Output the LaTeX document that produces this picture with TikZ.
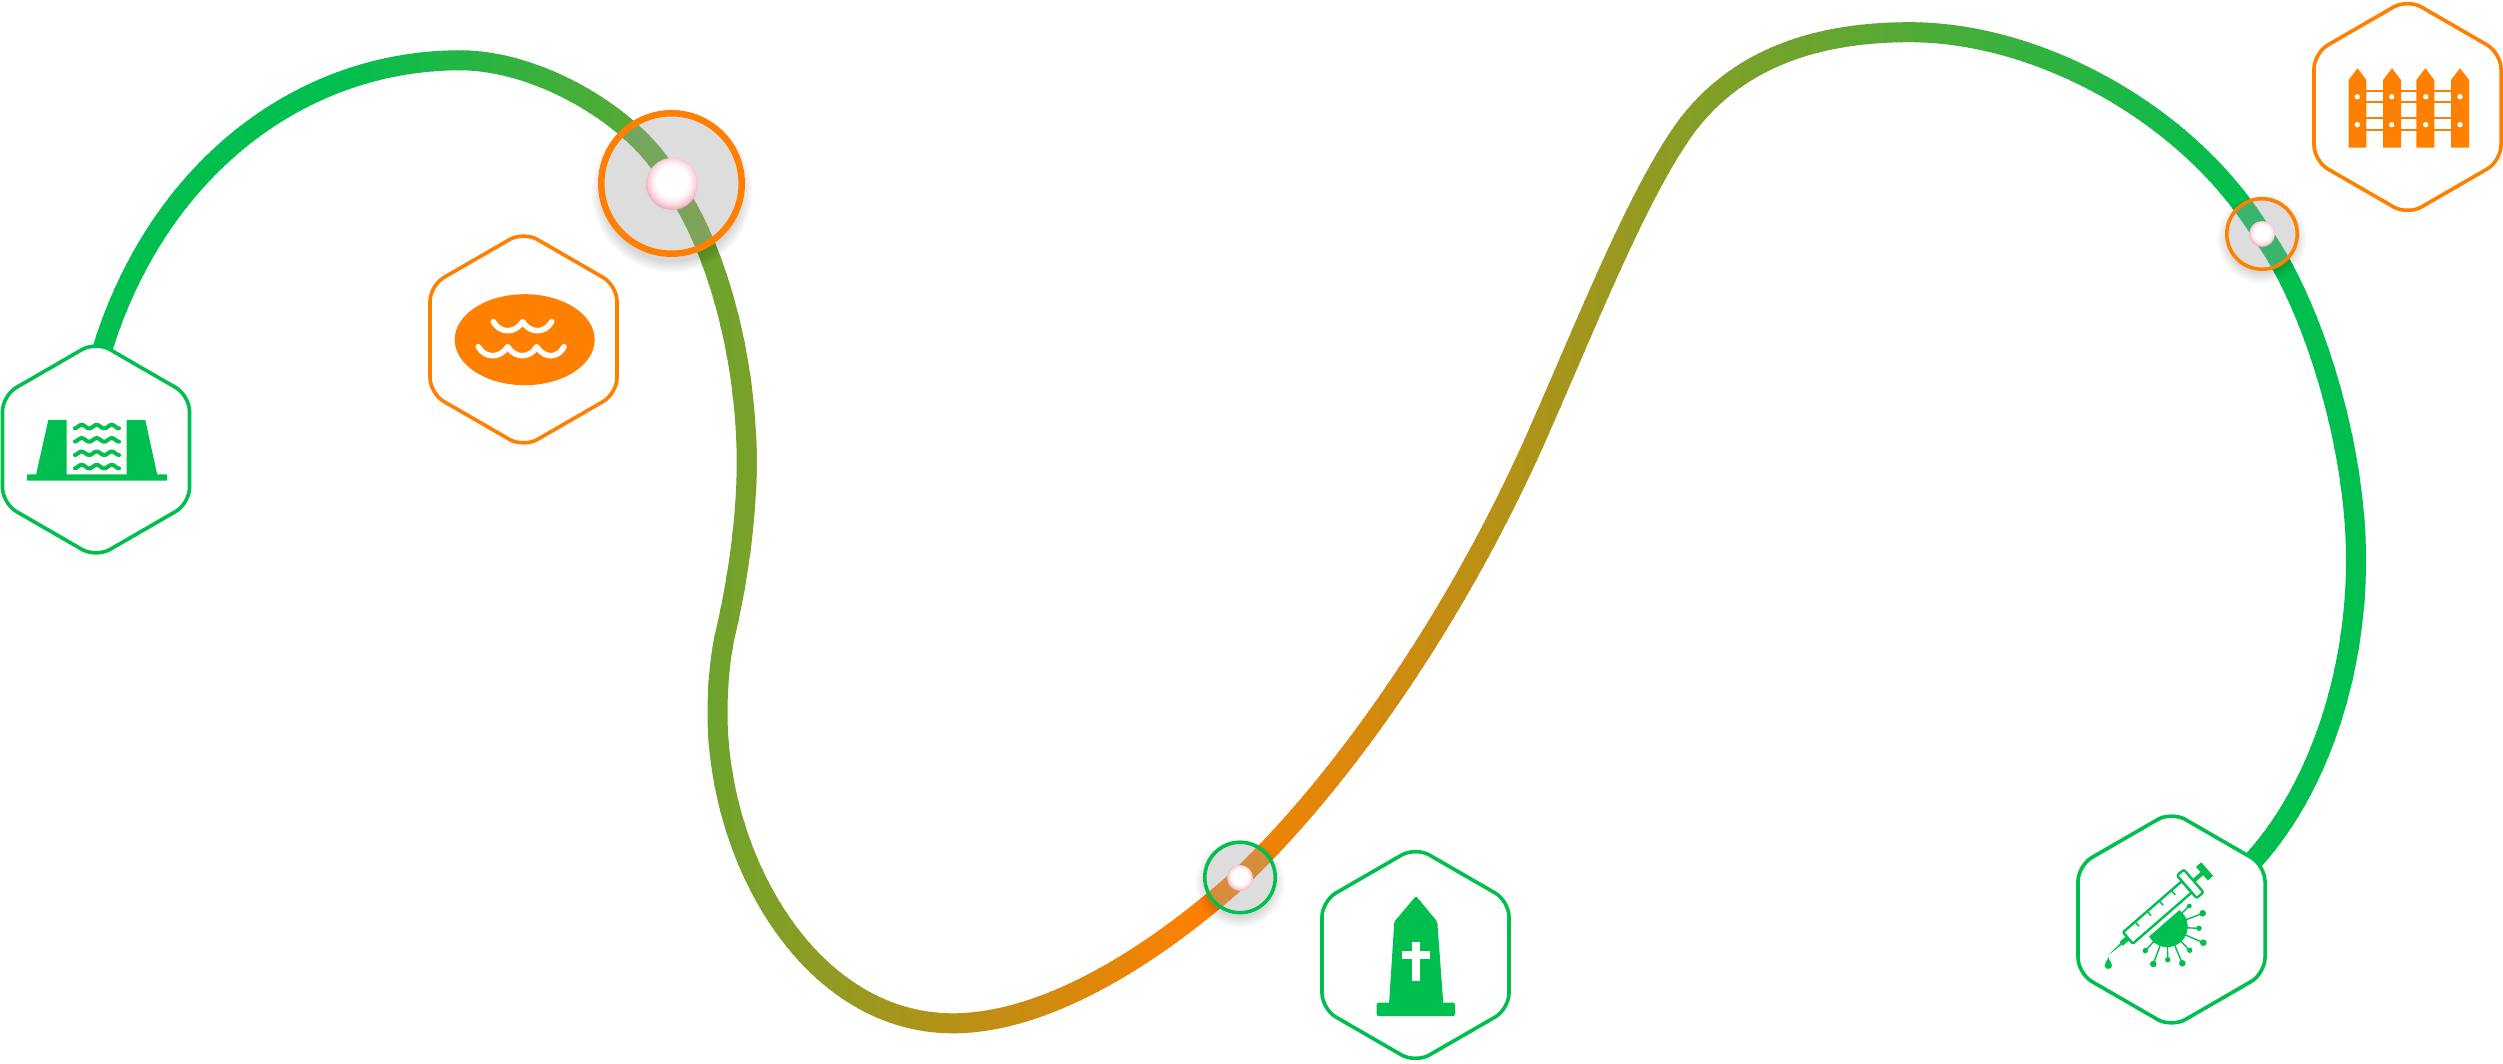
\documentclass[tikz,border=0pt]{standalone}
\usetikzlibrary{shapes.geometric}
\definecolor{greenC}{HTML}{00BF4F}
\definecolor{orangeC}{HTML}{FF7F00}
\definecolor{glass}{HTML}{A3A3A3}
\pgfdeclareradialshading{pearlshade}{\pgfpoint{0bp}{4bp}}{rgb(0bp)=(1,1,1);rgb(15bp)=(1,1,1);rgb(21bp)=(.99,.88,.90);rgb(26bp)=(.95,.68,.75);rgb(29bp)=(.92,.58,.67);rgb(50bp)=(.92,.58,.67)}
\tikzset{
  hexbox/.style={regular polygon,regular polygon sides=6,shape border rotate=30,minimum size=216pt,inner sep=0pt,outer sep=0pt,
    draw=#1,line width=3.6pt,rounded corners=16pt,fill=white},
  lens/.style={circle,inner sep=0pt,outer sep=0pt,draw=#1,fill=glass,fill opacity=0.36,draw opacity=1},
  pearl/.style={circle,inner sep=0pt,outer sep=0pt,shade,shading=pearlshade},
  route/.style={line width=20pt,line cap=butt,line join=round},
  wave/.style={line width=#1,line cap=round,line join=round},
}
\begin{document}
\begin{tikzpicture}[x=1pt,y=-1pt]
\useasboundingbox (0,0) rectangle (2503,1064);
\fill[white] (0,0) rectangle (2503,1064);
% route coordinates
\coordinate (p0) at (100,357);
\coordinate (p1) at (460,60.3);
\coordinate (p2) at (672,184);
\coordinate (p3) at (746.7,463);
\coordinate (p4) at (724.6,636.7);
\coordinate (p5) at (717.5,713);
\coordinate (p6) at (953,1023.3);
\coordinate (p7) at (1240,878);
\coordinate (p8) at (1543.6,420.7);
\coordinate (p9) at (1686.4,126.5);
\coordinate (p10) at (1909.6,32.2);
\coordinate (p11) at (2262,234);
\coordinate (p12) at (2356,560);
\coordinate (p13) at (2250,864);
\def\routepath{(p0) .. controls (155,170) and (300,60.3) .. (p1)
  .. controls (545,60.3) and (645,125) .. (p2)
  .. controls (710,235) and (746.7,345) .. (p3)
  .. controls (746.7,520) and (737,585) .. (p4)
  .. controls (719.6,660) and (717.5,690) .. (p5)
  .. controls (717.5,860) and (810,1023.3) .. (p6)
  .. controls (1050,1023.3) and (1160,950) .. (p7)
  .. controls (1345,778) and (1462,610) .. (p8)
  .. controls (1590,315) and (1640,190) .. (p9)
  .. controls (1735,62) and (1810,32.2) .. (p10)
  .. controls (2040,32.2) and (2190,115) .. (p11)
  .. controls (2310,300) and (2356,440) .. (p12)
  .. controls (2356,680) and (2315,795) .. (p13)}
\foreach \sx in {90,96,...,2370}{
  \pgfmathsetmacro{\mixv}{ifthenelse(\sx<1198,max(0,min(100,(\sx-340)/8.58)),max(0,min(100,(2240-\sx)/10.42)))}
  \begin{scope}
    \clip (\sx,-10) rectangle (\sx+7,1080);
    \draw[route,draw=orangeC!\mixv!greenC] \routepath;
  \end{scope}
}
% soft shadows outside the lenses
\foreach \cx/\cy/\rr/\off in {672/184/73/8,1240/878/37/5,2262/234/37/5}{
  \begin{scope}[even odd rule]
    \clip (0,0) rectangle (2503,1064) (\cx,\cy) circle[radius=\rr pt];
    \foreach \i in {0,...,7}{
      \fill[black,opacity=0.018] (\cx,\cy+\off) circle[radius=\rr pt-3pt+\i*1.5pt];
    }
  \end{scope}
}
% lenses
\node[lens=orangeC,line width=6.5pt,minimum size=140.5pt] (lensA) at (671.5,183.5) {};
\node[lens=greenC,line width=3.6pt,minimum size=70.5pt] (lensB) at (1240,877.5) {};
\node[lens=orangeC,line width=3.6pt,minimum size=70.5pt] (lensC) at (2262,234) {};
\node[pearl,minimum size=52pt] (pearlA) at (672,184) {};
\node[pearl,minimum size=26pt] (pearlB) at (1240,878) {};
\node[pearl,minimum size=26pt] (pearlC) at (2262,234) {};
% hexagons
\node[hexbox=greenC] (dam) at (96,449.5) {};
\node[hexbox=orangeC] (lake) at (523.5,339.5) {};
\node[hexbox=greenC] (grave) at (1415.5,955) {};
\node[hexbox=greenC] (vaccine) at (2171.5,919.5) {};
\node[hexbox=orangeC] (fence) at (2407.5,107) {};
% dam icon
\fill[greenC,rounded corners=0.6pt] (27,474.3) rectangle (167,480.7);
\fill[greenC] (48.3,420) -- (66.7,420) -- (66.7,475) -- (36,475) -- cycle;
\fill[greenC] (126.7,420) -- (145.3,420) -- (157.3,475) -- (126.7,475) -- cycle;
\foreach \wy in {425,438.3,451.7,465}{
  \draw[wave=4pt,greenC] plot[domain=75:119,samples=45] (\x,{\wy+1.6-1.8*cos((\x-81.7)*24)});
}
% lake icon
\fill[orangeC] (524.7,339.7) ellipse[x radius=70pt,y radius=45.5pt];
\draw[wave=5.6pt,white] (493.3,321.7) .. controls (500,333.7) and (515,333.7) .. (522.7,321.7)
  .. controls (530,333.7) and (545,333.7) .. (551.7,321.7);
\draw[wave=5.6pt,white] (478.3,346.7) .. controls (485,358.7) and (500,358.7) .. (507.7,346.7)
  .. controls (515,358.7) and (530,358.7) .. (536.7,346.7) .. controls (544,358.7) and (558,358.7) .. (564,346.7);
% grave icon
\fill[greenC,rounded corners=1.5pt] (1376.7,1002.7) rectangle (1455,1016);
\fill[greenC,rounded corners=1.5pt] (1389,1004) -- (1394.3,921.7) -- (1416,896) -- (1437.3,921.7) -- (1443.3,1004) -- cycle;
\fill[white] (1411.7,941.7) rectangle (1420.3,980.7);
\fill[white] (1402,950.7) rectangle (1429.7,959);
% fence icon
\foreach \ry in {90.7,101.7,118.3,130}{
  \draw[orangeC,line width=2.2pt] (2350,\ry) -- (2467,\ry);
}
\foreach \pl/\pr in {2348.7/2366.3,2383/2401,2416.3/2434.3,2451/2469}{
  \fill[orangeC] (\pl,147.7) -- (\pl,80) -- ({(\pl+\pr)/2},68.3) -- (\pr,80) -- (\pr,147.7) -- cycle;
}
\foreach \hx in {2357.3,2391.7,2425.7,2460}{
  \fill[white] (\hx,96.7) circle[radius=2.7pt];
  \fill[white] (\hx,124.7) circle[radius=2.7pt];
}
% vaccine icon: virus spikes
\foreach \bx/\by/\br in {2189.3/906/2.4,2202.7/913.3/3.3,2199/928.3/2.7,2203.3/942.7/3.3,2189.7/950.3/2.7,2182.3/963.3/3.3,2167.7/959.7/2.7,2153.3/964/3.3,2145.3/950.7/2.7}{
  \draw[greenC,line width=1.4pt] (2167,927) -- (\bx,\by);
  \fill[greenC] (\bx,\by) circle[radius=\br pt];
}
\begin{scope}[shift={(2108.3,955)},rotate=41]
  \begin{scope}
    \clip (30,12.8) rectangle (100,60);
    \fill[greenC] (63,17.2) circle[radius=20.5pt];
  \end{scope}
  \draw[greenC,line width=2.4pt,rounded corners=1pt] (26,-7.5) rectangle (104,7.5);
  \draw[greenC,line width=2.4pt,fill=white,rounded corners=2pt] (104,-15) rectangle (113,15);
  \fill[greenC] (113,-2) rectangle (125,2);
  \fill[greenC] (124,-9) rectangle (131,9);
  \foreach \tu in {42,58,74,90}{
    \draw[greenC,line width=1.5pt] (\tu,-7.5) -- (\tu,-1.5);
  }
  \fill[greenC] (17,-2.5) rectangle (26,2.5);
  \fill[greenC] (0,0) -- (17,-1) -- (17,1) -- cycle;
\end{scope}
\fill[greenC] (2108.3,957) .. controls (2109,961) and (2112,962) .. (2112,965.5)
  .. controls (2112,970) and (2104.6,970) .. (2104.6,965.5)
  .. controls (2104.6,962) and (2107.6,961) .. (2108.3,957) -- cycle;
\end{tikzpicture}
\end{document}
